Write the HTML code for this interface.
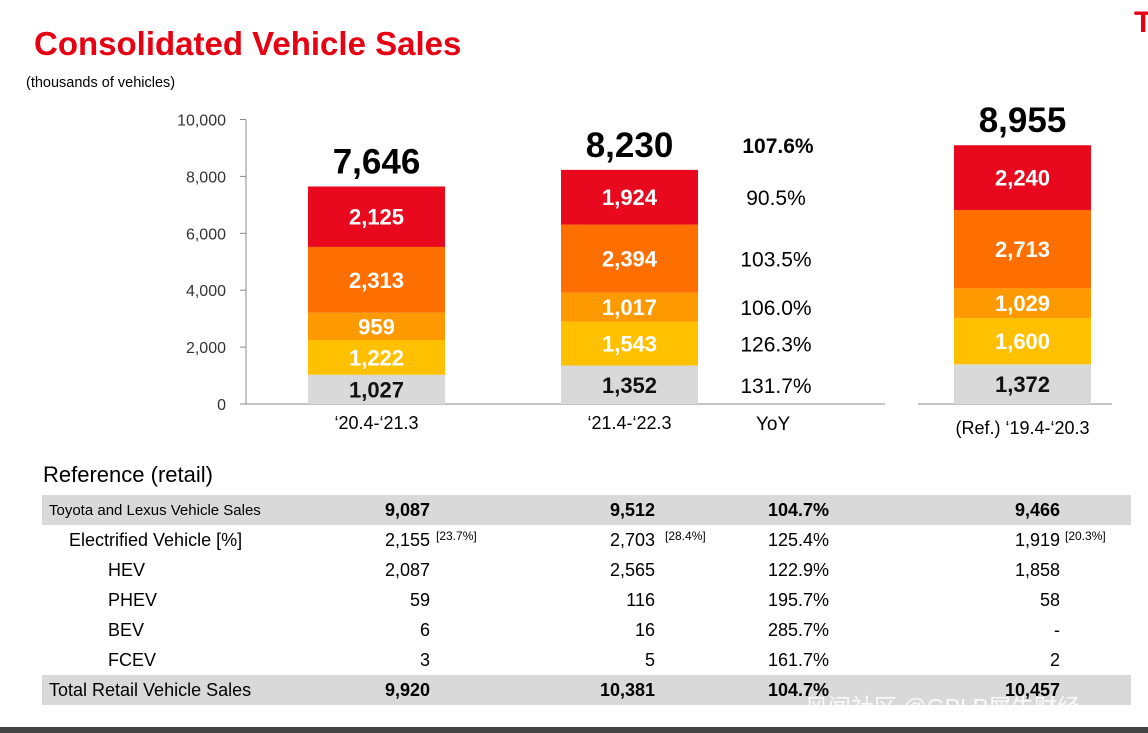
<!DOCTYPE html>
<html><head><meta charset="utf-8"><style>
body{margin:0;width:1148px;height:733px;background:#fff;font-family:"Liberation Sans","Noto Sans CJK SC",sans-serif;position:relative;overflow:hidden}
.a{position:absolute;white-space:nowrap}
.r{text-align:right}
.b{font-weight:bold}
</style></head><body>
<div class="a b" style="left:34px;top:25px;font-size:33px;color:#e60012">Consolidated Vehicle Sales</div>
<div class="a b" style="left:1134px;top:6px;font-size:30px;color:#e60012">T</div>
<div class="a" style="left:26px;top:75px;font-size:14.5px">(thousands of vehicles)</div>
<svg class="a" style="left:0;top:0" width="1148" height="470" id="chart"></svg>
<div class="a" style="left:756px;top:414px;font-size:19px">YoY</div>
<div class="a" style="left:43px;top:462px;font-size:22px">Reference (retail)</div>
<div class="a" style="left:42px;top:495px;width:1089px;height:30px;background:#d9d9d9"></div>
<div class="a" style="left:42px;top:675px;width:1089px;height:30px;background:#d9d9d9"></div>
<div id="tbl"></div>
<div class="a" style="left:805px;top:688px;font-size:23px;color:rgba(255,255,255,0.85)">风闻社区 @GPLP犀牛财经</div>
<div class="a" style="left:0;top:727px;width:1148px;height:6px;background:#444"></div>
<script>
const categories=["‘20.4-‘21.3","‘21.4-‘22.3","(Ref.) ‘19.4-‘20.3"];
const seriesGray=[1027,1352,1372];
const seriesYellow=[1222,1543,1600];
const seriesLightOrange=[959,1017,1029];
const seriesOrange=[2313,2394,2713];
const seriesRed=[2125,1924,2240];
const totals=[7646,8230,8955];
const yoy=["131.7%","126.3%","106.0%","103.5%","90.5%"];
const yoyTotal="107.6%";
const yTicks=[0,2000,4000,6000,8000,10000];
const colors=["#d9d9d9","#ffc000","#ff9900","#ff6f00","#e8091e"];
const ns="http://www.w3.org/2000/svg";
const svg=document.getElementById('chart');
const y0=404,yMax=10000;
const yPixArr=[284.5,284.5,289];
const yS=(v,i=0)=>y0-v/yMax*yPixArr[i];
const barX=[308,561,954],barW=137;
function el(t,a,txt){const e=document.createElementNS(ns,t);for(const k in a)e.setAttribute(k,a[k]);if(txt!==undefined)e.textContent=txt;svg.appendChild(e);return e;}
let e=el('line',{x1:246,x2:246,y1:yS(10000),y2:y0,stroke:'#888'});


e=el('line',{x1:240,x2:885,y1:y0,y2:y0,stroke:'#888'});


e=el('line',{x1:918,x2:1112,y1:y0,y2:y0,stroke:'#888'});


yTicks.forEach(t=>{
 let l=el('line',{x1:240,x2:246,y1:yS(t),y2:yS(t),stroke:'#888'});
 
 
 let tx=el('text',{x:226,y:yS(t)+6,'text-anchor':'end','font-size':16,fill:'#333'},t.toLocaleString('en-US'));
 
 
});
const series=[seriesGray,seriesYellow,seriesLightOrange,seriesOrange,seriesRed];
categories.forEach((c,i)=>{
 let base=0;
 series.forEach((s,k)=>{
  const v=s[i];
  const r=el('rect',{x:barX[i],y:yS(base+v,i),width:barW,height:yS(base,i)-yS(base+v,i),fill:colors[k]});
  
  
  const t=el('text',{x:barX[i]+barW/2,y:(yS(base,i)+yS(base+v,i))/2+8,'text-anchor':'middle','font-size':22,'font-weight':'bold',fill:k==0?'#111':'#fff'},v.toLocaleString('en-US'));
  
  
  base+=v;
 });
 const tt=el('text',{x:barX[i]+barW/2,y:yS(totals[i],i)-13,'text-anchor':'middle','font-size':35,'font-weight':'bold',fill:'#000'},totals[i].toLocaleString('en-US'));
 
 
 const cl=el('text',{x:barX[i]+barW/2,y:i==2?434:429,'text-anchor':'middle','font-size':18,fill:'#000'},c);
 
 
});
let base=0;
series.forEach((s,k)=>{
 const v=s[1];
 const t=el('text',{x:776,y:(yS(base)+yS(base+v))/2+8,'text-anchor':'middle','font-size':21,fill:'#000'},yoy[k]);
 
 
 base+=v;
});
e=el('text',{x:778,y:153,'text-anchor':'middle','font-size':21,'font-weight':'bold',fill:'#000'},yoyTotal);



const rows=[
 ["Toyota and Lexus Vehicle Sales",49,15,"9,087","","9,512","","104.7%","9,466","",true],
 ["Electrified Vehicle [%]",69,18,"2,155","[23.7%]","2,703","[28.4%]","125.4%","1,919","[20.3%]",false],
 ["HEV",108,18,"2,087","","2,565","","122.9%","1,858","",false],
 ["PHEV",108,18,"59","","116","","195.7%","58","",false],
 ["BEV",108,18,"6","","16","","285.7%","-","",false],
 ["FCEV",108,18,"3","","5","","161.7%","2","",false],
 ["Total Retail Vehicle Sales",49,18,"9,920","","10,381","","104.7%","10,457","",true]];
const tbl=document.getElementById('tbl');
let h='';
rows.forEach((r,i)=>{
 const top=500+i*30;const fw=r[10]?'bold':'normal';
 h+=`<div class="a" style="left:${r[1]}px;top:${top+(i==0?2:0)}px;font-size:${r[2]}px">${r[0]}</div>`;
 h+=`<div class="a r" style="right:${1148-430}px;top:${top}px;font-size:18px;font-weight:${fw}">${r[3]}</div>`;
 if(r[4])h+=`<div class="a" style="left:436px;top:${top-1}px;font-size:12px">${r[4]}</div>`;
 h+=`<div class="a r" style="right:${1148-655}px;top:${top}px;font-size:18px;font-weight:${fw}">${r[5]}</div>`;
 if(r[6])h+=`<div class="a" style="left:665px;top:${top-1}px;font-size:12px">${r[6]}</div>`;
 h+=`<div class="a r" style="right:${1148-829}px;top:${top}px;font-size:18px;font-weight:${fw}">${r[7]}</div>`;
 h+=`<div class="a r" style="right:${1148-1060}px;top:${top}px;font-size:18px;font-weight:${fw}">${r[8]}</div>`;
 if(r[9])h+=`<div class="a" style="left:1065px;top:${top-1}px;font-size:12px">${r[9]}</div>`;
});
tbl.innerHTML=h;
</script>
</body></html>
